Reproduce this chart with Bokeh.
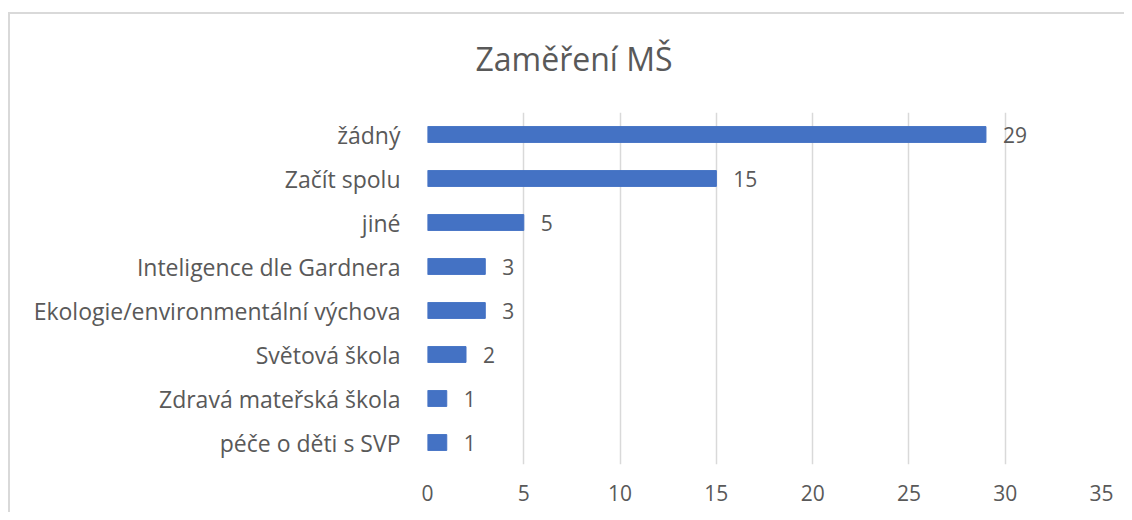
from bokeh.plotting import figure
from bokeh.models import FactorRange, Range1d, ColumnDataSource, Title
from bokeh.core.properties import value
from bokeh.embed import file_html
from bokeh.resources import INLINE

categories = ["žádný", "Začít spolu", "jiné", "Inteligence dle Gardnera",
              "Ekologie/environmentální výchova", "Světová škola",
              "Zdravá mateřská škola", "péče o děti s SVP"]
counts = [29, 15, 5, 3, 3, 2, 1, 1]
x_ticks = [0, 5, 10, 15, 20, 25, 30, 35]
title_text = "Zaměření MŠ"

FONT = "Open Sans"
GREY = "#595959"

src = ColumnDataSource(dict(cat=categories, val=counts, lab=[str(v) for v in counts]))

p = figure(width=1116, height=509, output_backend="svg", toolbar_location=None,
           y_range=FactorRange(*reversed(categories)), x_range=Range1d(0, 35))
p.styles = {
    "margin-top": "3px", "margin-left": "8px",
    "background": ("linear-gradient(#d9d9d9,#d9d9d9) 0 9px / 100% 2px no-repeat, "
                   "linear-gradient(#d9d9d9,#d9d9d9) 0 9px / 2px 100% no-repeat, white"),
}
p.border_fill_alpha = 0
p.background_fill_color = "white"
p.min_border_left = 419
p.min_border_right = 23
p.min_border_bottom = 48
p.min_border_top = 109
p.outline_line_color = None

p.title = Title(text=title_text, align="left", offset=48, vertical_align="top",
                text_font=FONT, text_font_size="32px", text_font_style="normal",
                text_color=GREY, standoff=62)

p.hbar(y="cat", right="val", left=0, height=0.36, source=src, color="#4472C4")
p.text(x="val", y="cat", text="lab", source=src, x_offset=17,
       text_baseline="middle", text_align="left", text_color=GREY,
       text_font=value(FONT), text_font_size="21px")

p.xaxis.ticker = x_ticks
p.xaxis.axis_line_color = None
p.xaxis.major_tick_line_color = None
p.xaxis.minor_tick_line_color = None
p.xaxis.major_label_text_font = FONT
p.xaxis.major_label_text_font_size = "21px"
p.xaxis.major_label_text_color = GREY
p.xaxis.major_label_standoff = 14

p.yaxis.axis_line_color = None
p.yaxis.major_tick_line_color = None
p.yaxis.major_label_text_font = FONT
p.yaxis.major_label_text_font_size = "23px"
p.yaxis.major_label_text_color = GREY
p.yaxis.major_label_standoff = 21

p.xgrid.grid_line_color = "#d9d9d9"
p.xgrid.grid_line_width = 1.5
p.xgrid.ticker = x_ticks
p.ygrid.grid_line_color = None

open("out.html", "w").write(file_html(p, INLINE))
